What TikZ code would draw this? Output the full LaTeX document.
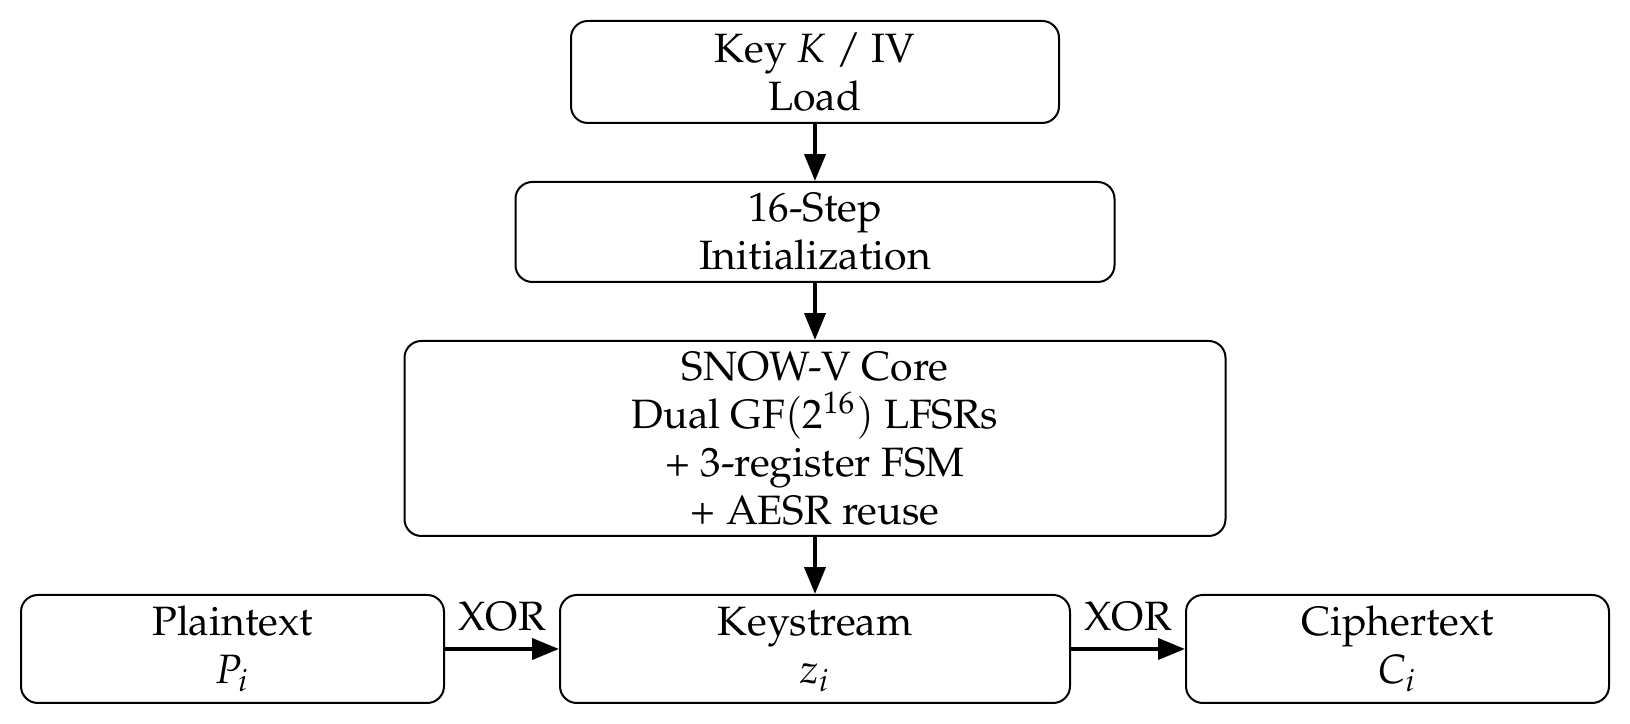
\documentclass[tikz,border=0pt]{standalone}
\usepackage[T1]{fontenc}
\usepackage{mathpazo}
\usetikzlibrary{arrows.meta}
\begin{document}
\begin{tikzpicture}[x=0.25pt,y=-0.25pt,
  blk/.style={draw, line width=0.5pt, rounded corners=4.2pt, align=center, inner sep=2pt, font=\fontsize{10.25}{12}\selectfont},
  flow/.style={line width=1pt, -{Triangle[length=6.7pt,width=5.2pt]}},
  lbl/.style={font=\fontsize{10.25}{12}\selectfont, inner sep=0pt}]
\useasboundingbox (0,0) rectangle (1630,724);
\node[blk, minimum width=122pt, minimum height=25.5pt] (load) at (815,72) {Key $K$ / IV\\Load};
\node[blk, minimum width=149.75pt, minimum height=25pt] (init) at (815,232) {16-Step\\Initialization};
\node[blk, minimum width=205.25pt, minimum height=48.75pt] (core) at (815,438.5) {SNOW-V Core\\Dual GF$(2^{16})$ LFSRs\\+ 3-register FSM\\+ AESR reuse};
\node[blk, minimum width=105.75pt, minimum height=27pt] (plain) at (232.5,649) {Plaintext\\$P_i$};
\node[blk, minimum width=127.5pt, minimum height=27pt] (keys) at (815,649) {Keystream\\$z_i$};
\node[blk, minimum width=105.75pt, minimum height=27pt] (ciph) at (1397.5,649) {Ciphertext\\$C_i$};
\draw[flow] (load) -- (init);
\draw[flow] (init) -- (core);
\draw[flow] (core) -- (keys);
\draw[flow] (plain) -- node[lbl, above=4pt] (x1) {XOR} (keys);
\draw[flow] (keys) -- node[lbl, above=4pt] (x2) {XOR} (ciph);
\end{tikzpicture}
\end{document}
